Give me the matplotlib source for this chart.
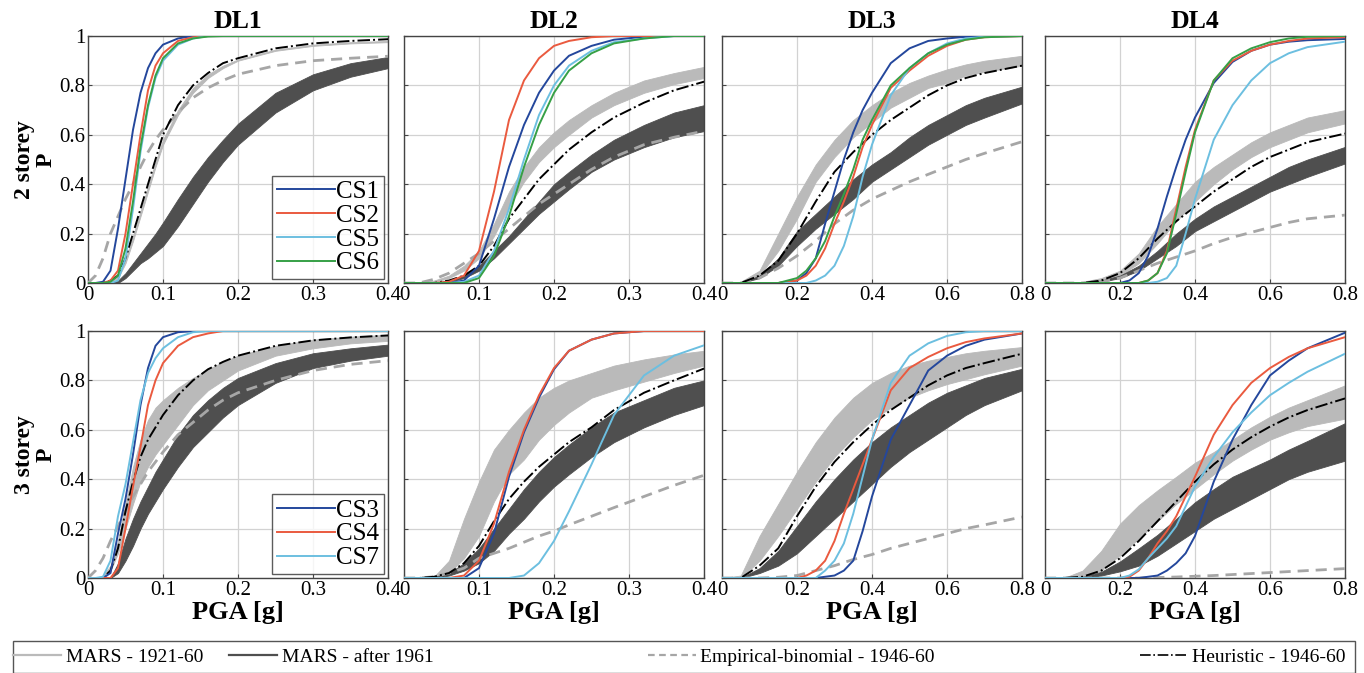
import matplotlib
matplotlib.use('Agg')
import matplotlib.pyplot as plt
from matplotlib.lines import Line2D
from matplotlib.patches import Rectangle

plt.rcParams['font.family'] = ['Liberation Serif', 'DejaVu Serif']

# ---------------- x grids (PGA [g]) ----------------
X_DL1 = [0, .01, .02, .03, .04, .05, .06, .07, .08, .09, .10, .12, .14, .16, .18, .20, .25, .30, .35, .40]
X_DL2 = [0, .02, .04, .06, .08, .10, .12, .14, .16, .18, .20, .22, .25, .28, .32, .36, .40]
X_WIDE = [0, .05, .1, .15, .2, .25, .3, .35, .4, .45, .5, .55, .6, .65, .7, .8]
X_WIDE_CS = [0, .15, .2, .225, .25, .275, .3, .325, .35, .375, .4, .45, .5, .55, .6, .65, .7, .8]

# ---------------- 2 storey, DL1 ----------------
s2_dl1_cs1 = [0, 0, .005, .05, .22, .42, .62, .77, .87, .93, .965, .99, 1, 1, 1, 1, 1, 1, 1, 1]
s2_dl1_cs2 = [0, 0, 0, .01, .05, .2, .4, .6, .78, .88, .93, .98, .995, 1, 1, 1, 1, 1, 1, 1]
s2_dl1_cs5 = [0, 0, 0, 0, .01, .1, .3, .53, .71, .83, .9, .965, .99, 1, 1, 1, 1, 1, 1, 1]
s2_dl1_cs6 = [0, 0, 0, .005, .03, .14, .33, .55, .72, .84, .91, .97, .99, .998, 1, 1, 1, 1, 1, 1]
s2_dl1_old_hi = [0, 0, 0, .01, .03, .1, .19, .29, .39, .49, .58, .7, .79, .845, .88, .905, .945, .965, .975, .98]
s2_dl1_old_lo = [0, 0, 0, .005, .02, .08, .17, .27, .37, .47, .56, .68, .77, .83, .87, .9, .94, .96, .97, .975]
s2_dl1_new_hi = [0, 0, 0, 0, .01, .04, .08, .12, .16, .2, .245, .34, .43, .51, .58, .645, .77, .845, .89, .915]
s2_dl1_new_lo = [0, 0, 0, 0, 0, .02, .05, .08, .1, .125, .15, .23, .32, .41, .49, .56, .69, .78, .835, .87]
s2_dl1_emp = [0, .03, .1, .2, .27, .34, .4, .47, .53, .58, .62, .69, .75, .79, .82, .845, .88, .9, .91, .918]
s2_dl1_heur = [0, 0, 0, .01, .03, .1, .2, .3, .4, .5, .6, .72, .8, .85, .89, .91, .95, .97, .98, .987]

# ---------------- 2 storey, DL2 ----------------
s2_dl2_cs1 = [0, 0, 0, 0, .01, .07, .26, .47, .64, .77, .86, .92, .96, .985, .997, 1, 1]
s2_dl2_cs2 = [0, 0, 0, .005, .03, .13, .37, .66, .82, .91, .96, .98, .995, 1, 1, 1, 1]
s2_dl2_cs5 = [0, 0, 0, 0, .005, .03, .13, .3, .5, .68, .8, .88, .94, .975, .99, 1, 1]
s2_dl2_cs6 = [0, 0, 0, 0, 0, .02, .11, .27, .47, .64, .77, .86, .93, .97, .99, 1, 1]
s2_dl2_old_hi = [0, 0, .01, .03, .07, .13, .24, .37, .47, .55, .61, .66, .72, .77, .82, .85, .875]
s2_dl2_old_lo = [0, 0, .005, .02, .05, .1, .19, .31, .41, .49, .55, .6, .67, .72, .77, .805, .83]
s2_dl2_new_hi = [0, 0, .002, .01, .03, .07, .13, .19, .26, .33, .4, .45, .52, .58, .64, .69, .72]
s2_dl2_new_lo = [0, 0, 0, .005, .02, .05, .1, .16, .22, .28, .33, .38, .45, .5, .55, .59, .615]
s2_dl2_emp = [0, 0, .015, .04, .08, .12, .17, .22, .27, .32, .36, .4, .46, .51, .56, .59, .615]
s2_dl2_heur = [0, 0, 0, .01, .03, .07, .15, .26, .34, .42, .48, .54, .61, .67, .73, .78, .815]

# ---------------- 2 storey, DL3 ----------------
s2_dl3_cs1 = [0, 0, .01, .04, .1, .24, .37, .5, .61, .7, .77, .89, .95, .98, .99, .997, 1, 1]
s2_dl3_cs2 = [0, 0, .01, .03, .07, .14, .24, .33, .43, .55, .64, .79, .86, .92, .96, .985, .995, 1]
s2_dl3_cs5 = [0, 0, 0, 0, .01, .03, .07, .15, .27, .43, .56, .76, .87, .93, .97, .99, .997, 1]
s2_dl3_cs6 = [0, 0, .02, .05, .1, .17, .27, .36, .46, .58, .66, .8, .87, .93, .965, .985, .995, 1]
s2_dl3_old_hi = [0, .005, .05, .2, .35, .48, .58, .66, .72, .77, .81, .84, .865, .885, .9, .92]
s2_dl3_old_lo = [0, 0, .03, .13, .26, .41, .51, .59, .65, .71, .75, .79, .81, .84, .855, .88]
s2_dl3_new_hi = [0, 0, .03, .1, .21, .28, .35, .42, .48, .53, .59, .64, .68, .72, .75, .795]
s2_dl3_new_lo = [0, 0, .02, .07, .15, .22, .28, .34, .41, .46, .51, .56, .6, .64, .67, .727]
s2_dl3_emp = [0, 0, .02, .06, .11, .17, .24, .295, .34, .375, .41, .44, .47, .5, .525, .572]
s2_dl3_heur = [0, 0, .03, .09, .2, .33, .45, .53, .6, .66, .71, .76, .8, .83, .85, .88]

# ---------------- 2 storey, DL4 ----------------
s2_dl4_cs1 = [0, 0, 0, .01, .04, .11, .22, .35, .47, .58, .67, .81, .895, .94, .965, .977, .983, .988]
s2_dl4_cs2 = [0, 0, 0, 0, 0, .01, .04, .13, .3, .47, .62, .82, .9, .94, .965, .98, .99, .995]
s2_dl4_cs5 = [0, 0, 0, 0, 0, 0, .005, .02, .07, .2, .34, .58, .72, .82, .89, .93, .955, .977]
s2_dl4_cs6 = [0, 0, 0, 0, 0, .01, .04, .12, .28, .45, .61, .82, .91, .95, .975, .99, .997, 1]
s2_dl4_old_hi = [0, 0, .005, .02, .05, .12, .23, .32, .41, .47, .52, .57, .61, .64, .67, .70]
s2_dl4_old_lo = [0, 0, 0, .01, .03, .08, .16, .25, .33, .4, .46, .51, .55, .58, .61, .646]
s2_dl4_new_hi = [0, 0, 0, .01, .03, .07, .13, .2, .26, .31, .35, .39, .43, .47, .5, .551]
s2_dl4_new_lo = [0, 0, 0, .005, .02, .05, .1, .15, .21, .25, .29, .33, .37, .4, .43, .484]
s2_dl4_emp = [0, 0, 0, .005, .02, .05, .08, .105, .13, .16, .185, .205, .225, .245, .26, .275]
s2_dl4_heur = [0, 0, 0, .01, .04, .1, .18, .25, .31, .37, .42, .47, .51, .54, .57, .605]

# ---------------- 3 storey, DL1 ----------------
s3_dl1_cs3 = [0, 0, 0, .02, .18, .32, .5, .7, .85, .94, .975, .995, 1, 1, 1, 1, 1, 1, 1, 1]
s3_dl1_cs4 = [0, 0, 0, 0, .04, .2, .37, .53, .7, .8, .87, .94, .975, .99, 1, 1, 1, 1, 1, 1]
s3_dl1_cs7 = [0, 0, .005, .07, .25, .38, .55, .72, .83, .89, .93, .975, .995, 1, 1, 1, 1, 1, 1, 1]
s3_dl1_old_hi = [0, 0, .01, .05, .15, .3, .45, .56, .64, .69, .72, .77, .81, .845, .875, .9, .94, .965, .977, .985]
s3_dl1_old_lo = [0, 0, 0, .03, .1, .2, .3, .39, .45, .5, .54, .62, .7, .76, .8, .84, .9, .93, .95, .96]
s3_dl1_new_hi = [0, 0, 0, 0, .06, .16, .24, .31, .37, .43, .48, .58, .66, .72, .77, .81, .87, .91, .93, .945]
s3_dl1_new_lo = [0, 0, 0, 0, .02, .07, .13, .2, .26, .31, .36, .45, .53, .59, .65, .7, .79, .85, .88, .9]
s3_dl1_emp = [0, .03, .08, .15, .21, .27, .33, .38, .43, .47, .51, .58, .63, .68, .72, .75, .8, .84, .865, .88]
s3_dl1_heur = [0, 0, 0, .03, .12, .27, .39, .49, .56, .61, .66, .74, .8, .845, .875, .9, .94, .962, .974, .982]

# ---------------- 3 storey, DL2 ----------------
s3_dl2_cs3 = [0, 0, 0, 0, 0, .04, .18, .41, .59, .73, .845, .92, .965, .99, 1, 1, 1]
s3_dl2_cs4 = [0, 0, 0, 0, .01, .07, .22, .43, .6, .74, .85, .92, .965, .99, 1, 1, 1]
s3_dl2_cs7 = [0, 0, 0, 0, 0, 0, 0, 0, .01, .06, .15, .27, .46, .66, .82, .9, .942]
s3_dl2_old_hi = [0, 0, .005, .07, .24, .39, .52, .6, .67, .73, .77, .8, .83, .86, .885, .905, .92]
s3_dl2_old_lo = [0, 0, 0, .02, .08, .17, .31, .42, .48, .56, .62, .67, .73, .76, .795, .83, .86]
s3_dl2_new_hi = [0, 0, .005, .02, .06, .12, .2, .28, .36, .43, .49, .54, .61, .67, .72, .77, .8]
s3_dl2_new_lo = [0, 0, 0, .01, .03, .06, .11, .18, .24, .31, .37, .42, .49, .55, .61, .66, .7]
s3_dl2_emp = [0, 0, .005, .02, .04, .08, .1, .12, .145, .17, .19, .215, .25, .285, .33, .375, .416]
s3_dl2_heur = [0, 0, .005, .02, .06, .13, .23, .32, .39, .45, .5, .55, .61, .68, .75, .8, .848]

# ---------------- 3 storey, DL3 ----------------
s3_dl3_cs3 = [0, 0, 0, 0, 0, .005, .01, .03, .07, .19, .33, .56, .7, .84, .9, .94, .965, .99]
s3_dl3_cs4 = [0, 0, 0, .01, .03, .07, .15, .26, .36, .46, .56, .76, .85, .895, .93, .955, .97, .99]
s3_dl3_cs7 = [0, 0, 0, 0, 0, .03, .07, .14, .26, .41, .56, .79, .9, .95, .98, .995, 1, 1]
s3_dl3_old_hi = [0, .01, .17, .3, .43, .55, .65, .73, .79, .83, .86, .88, .895, .91, .92, .935]
s3_dl3_old_lo = [0, 0, .07, .17, .28, .39, .49, .57, .64, .69, .73, .76, .785, .805, .825, .86]
s3_dl3_new_hi = [0, 0, .04, .11, .21, .31, .4, .48, .55, .61, .66, .71, .75, .78, .81, .847]
s3_dl3_new_lo = [0, 0, .02, .05, .1, .17, .24, .31, .38, .45, .51, .56, .61, .66, .7, .76]
s3_dl3_emp = [0, 0, 0, .003, .01, .03, .05, .075, .095, .12, .14, .16, .18, .2, .215, .247]
s3_dl3_heur = [0, 0, .05, .12, .25, .37, .47, .55, .62, .68, .73, .78, .82, .85, .87, .908]

# ---------------- 3 storey, DL4 ----------------
s3_dl4_cs3 = [0, 0, 0, 0, 0, .005, .01, .03, .06, .1, .17, .39, .56, .7, .82, .88, .93, .993]
s3_dl4_cs4 = [0, 0, 0, .005, .03, .08, .14, .19, .25, .33, .41, .58, .7, .79, .85, .895, .93, .975]
s3_dl4_cs7 = [0, 0, 0, .01, .035, .08, .12, .16, .21, .29, .37, .49, .59, .67, .74, .79, .835, .908]
s3_dl4_old_hi = [0, 0, .03, .11, .22, .295, .355, .41, .467, .51, .56, .61, .653, .69, .72, .78]
s3_dl4_old_lo = [0, 0, .005, .03, .093, .16, .23, .3, .36, .42, .475, .52, .56, .59, .615, .645]
s3_dl4_new_hi = [0, 0, .005, .025, .067, .12, .175, .24, .307, .36, .41, .445, .48, .52, .555, .627]
s3_dl4_new_lo = [0, 0, .002, .01, .027, .05, .09, .14, .19, .24, .28, .32, .36, .4, .43, .475]
s3_dl4_emp = [0, 0, 0, 0, 0, 0, .002, .004, .007, .01, .014, .018, .022, .026, .03, .038]
s3_dl4_heur = [0, 0, .005, .03, .08, .15, .23, .31, .39, .46, .52, .57, .613, .65, .68, .727]

# ---------------- labels ----------------
COL_TITLES = ['DL1', 'DL2', 'DL3', 'DL4']
ROW_LABELS = ['2 storey\nP', '3 storey\nP']
XMAX = [0.4, 0.4, 0.8, 0.8]
XTICKS = [[0, 0.1, 0.2, 0.3, 0.4], [0, 0.1, 0.2, 0.3, 0.4],
          [0, 0.2, 0.4, 0.6, 0.8], [0, 0.2, 0.4, 0.6, 0.8]]
YTICKS = [0, 0.2, 0.4, 0.6, 0.8, 1]
LEGEND_LABELS = ['MARS - 1921-60', 'MARS - after 1961', 'Empirical-binomial - 1946-60', 'Heuristic - 1946-60']

CS_COLORS = {'CS1': '#24479c', 'CS3': '#24479c', 'CS2': '#ea5a3f', 'CS4': '#ea5a3f',
             'CS5': '#6cbfe0', 'CS7': '#6cbfe0', 'CS6': '#36a046'}
OLD_COLOR = '#bababa'
NEW_COLOR = '#4f4f4f'
EMP_COLOR = '#a6a6a6'

panels = [
    (0, 0, X_DL1, X_DL1, s2_dl1_old_lo, s2_dl1_old_hi, s2_dl1_new_lo, s2_dl1_new_hi, s2_dl1_emp, s2_dl1_heur,
     [('CS1', s2_dl1_cs1), ('CS2', s2_dl1_cs2), ('CS5', s2_dl1_cs5), ('CS6', s2_dl1_cs6)]),
    (0, 1, X_DL2, X_DL2, s2_dl2_old_lo, s2_dl2_old_hi, s2_dl2_new_lo, s2_dl2_new_hi, s2_dl2_emp, s2_dl2_heur,
     [('CS1', s2_dl2_cs1), ('CS2', s2_dl2_cs2), ('CS5', s2_dl2_cs5), ('CS6', s2_dl2_cs6)]),
    (0, 2, X_WIDE, X_WIDE_CS, s2_dl3_old_lo, s2_dl3_old_hi, s2_dl3_new_lo, s2_dl3_new_hi, s2_dl3_emp, s2_dl3_heur,
     [('CS1', s2_dl3_cs1), ('CS2', s2_dl3_cs2), ('CS5', s2_dl3_cs5), ('CS6', s2_dl3_cs6)]),
    (0, 3, X_WIDE, X_WIDE_CS, s2_dl4_old_lo, s2_dl4_old_hi, s2_dl4_new_lo, s2_dl4_new_hi, s2_dl4_emp, s2_dl4_heur,
     [('CS1', s2_dl4_cs1), ('CS2', s2_dl4_cs2), ('CS5', s2_dl4_cs5), ('CS6', s2_dl4_cs6)]),
    (1, 0, X_DL1, X_DL1, s3_dl1_old_lo, s3_dl1_old_hi, s3_dl1_new_lo, s3_dl1_new_hi, s3_dl1_emp, s3_dl1_heur,
     [('CS3', s3_dl1_cs3), ('CS4', s3_dl1_cs4), ('CS7', s3_dl1_cs7)]),
    (1, 1, X_DL2, X_DL2, s3_dl2_old_lo, s3_dl2_old_hi, s3_dl2_new_lo, s3_dl2_new_hi, s3_dl2_emp, s3_dl2_heur,
     [('CS3', s3_dl2_cs3), ('CS4', s3_dl2_cs4), ('CS7', s3_dl2_cs7)]),
    (1, 2, X_WIDE, X_WIDE_CS, s3_dl3_old_lo, s3_dl3_old_hi, s3_dl3_new_lo, s3_dl3_new_hi, s3_dl3_emp, s3_dl3_heur,
     [('CS3', s3_dl3_cs3), ('CS4', s3_dl3_cs4), ('CS7', s3_dl3_cs7)]),
    (1, 3, X_WIDE, X_WIDE_CS, s3_dl4_old_lo, s3_dl4_old_hi, s3_dl4_new_lo, s3_dl4_new_hi, s3_dl4_emp, s3_dl4_heur,
     [('CS3', s3_dl4_cs3), ('CS4', s3_dl4_cs4), ('CS7', s3_dl4_cs7)]),
]

W, H = 1364, 673
fig = plt.figure(figsize=(W / 100, H / 100), dpi=100)

COL_LEFT = [88, 404, 722, 1045]
COL_W = 300
ROW_TOP = [36, 331]
ROW_H = 247

for (r, c, xg, xcs, olo, ohi, nlo, nhi, emp, heur, cs) in panels:
    ax = fig.add_axes([COL_LEFT[c] / W, 1 - (ROW_TOP[r] + ROW_H) / H, COL_W / W, ROW_H / H])
    ax.fill_between(xg, olo, ohi, color=OLD_COLOR, lw=0.6, zorder=2)
    ax.fill_between(xg, nlo, nhi, color=NEW_COLOR, lw=0.6, zorder=2)
    ax.plot(xg, emp, color=EMP_COLOR, lw=2.0, dashes=(4, 2.5), zorder=3)
    ax.plot(xg, heur, color='black', lw=1.4, ls='-.', zorder=4)
    handles = []
    for name, ys in cs:
        ln, = ax.plot(xcs, ys, color=CS_COLORS[name], lw=1.4, zorder=5, label=name)
        handles.append(ln)
    ax.set_xlim(0, XMAX[c])
    ax.set_ylim(0, 1)
    ax.set_xticks(XTICKS[c])
    ax.set_xticklabels(['%g' % v for v in XTICKS[c]])
    ax.set_yticks(YTICKS)
    if c == 0:
        ax.set_yticklabels(['%g' % v for v in YTICKS])
        ax.set_ylabel(ROW_LABELS[r], fontsize=17, fontweight='bold', labelpad=2, linespacing=1.05)
        leg = ax.legend(handles=handles, loc='lower right', fontsize=18, frameon=True, fancybox=False,
                        borderaxespad=0.15, handlelength=2.3, handletextpad=0.05, labelspacing=0.05,
                        borderpad=0.2)
        leg.get_frame().set_edgecolor('#333333')
        leg.get_frame().set_linewidth(1.0)
        leg.set_zorder(10)
    else:
        ax.set_yticklabels([])
    if r == 0:
        ax.set_title(COL_TITLES[c], fontsize=18.5, fontweight='bold', pad=6)
    else:
        ax.set_xlabel('PGA [g]', fontsize=19, fontweight='bold', labelpad=1)
    ax.grid(True, color='#d2d2d2', lw=0.9)
    ax.set_axisbelow(True)
    ax.tick_params(direction='in', length=3, labelsize=15, pad=2, color='#444444')
    for sp in ax.spines.values():
        sp.set_color('#444444')
        sp.set_linewidth(1.0)

# ---------------- bottom legend (one entry per legend, inside a common frame) ----------------
leg_handles = [Line2D([], [], color=OLD_COLOR, lw=1.6),
               Line2D([], [], color=NEW_COLOR, lw=1.6),
               Line2D([], [], color=EMP_COLOR, lw=1.6, dashes=(3, 2)),
               Line2D([], [], color='black', lw=1.2, ls='-.')]
LEG_X = [13, 229, 648, 1140]   # left edge (px) of each entry
LEG_Y = 657                    # vertical centre (px)
fig.add_artist(Rectangle((13 / W, 0.5 / H), 1342 / W, 32 / H, transform=fig.transFigure,
                         fill=False, edgecolor='#555555', lw=1.0))
for h, lab, x0 in zip(leg_handles, LEGEND_LABELS, LEG_X):
    fig.legend([h], [lab], loc='center left', bbox_to_anchor=(x0 / W, 1 - LEG_Y / H),
               fontsize=14, frameon=False, handlelength=2.45, handletextpad=0.25,
               borderpad=0.0, borderaxespad=0.0)

fig.savefig('out.png', dpi=100)
